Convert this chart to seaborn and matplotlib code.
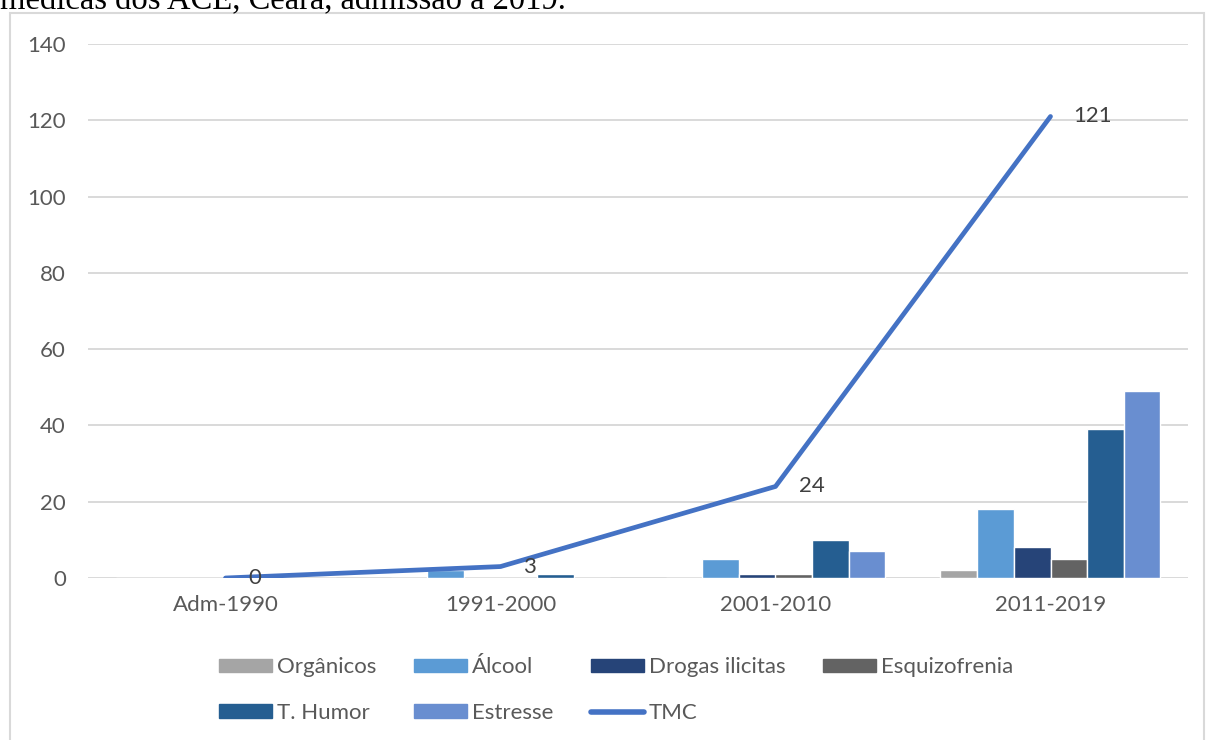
import numpy as np
import pandas as pd
import matplotlib
matplotlib.use('Agg')
import matplotlib.pyplot as plt
from matplotlib.patches import Rectangle
from matplotlib.lines import Line2D
import seaborn as sns

# -------------------------
# Dados
# -------------------------
periodos = ['Adm-1990', '1991-2000', '2001-2010', '2011-2019']
tipos = ['Orgânicos', 'Álcool', 'Drogas ilicitas', 'Esquizofrenia', 'T. Humor', 'Estresse']
organicos     = [0, 0, 0, 2]
alcool        = [0, 2, 5, 18]
drogas        = [0, 0, 1, 8]
esquizofrenia = [0, 0, 1, 5]
humor         = [0, 1, 10, 39]
estresse      = [0, 0, 7, 49]
tmc           = [0, 3, 24, 121]

cores = ['#A5A5A5', '#5B9BD5', '#264478', '#636363', '#255E91', '#698ED0']
cor_tmc = '#4472C4'

series = [organicos, alcool, drogas, esquizofrenia, humor, estresse]
df = pd.DataFrame({
    'periodo': periodos * len(tipos),
    'tipo': [t for t in tipos for _ in periodos],
    'n': [v for s in series for v in s],
})

sns.set_theme(style='white')
plt.rcParams['font.family'] = ['Lato', 'DejaVu Sans']

FS = 16

fig = plt.figure(figsize=(12.06, 7.40), dpi=100)
ax = fig.add_axes([88/1206, 1-578/740, 1100/1206, 534/740])

sns.barplot(data=df, x='periodo', y='n', hue='tipo', order=periodos,
            hue_order=tipos, palette=cores, width=0.8, saturation=1,
            ax=ax, legend=False, errorbar=None)

pos = np.arange(len(periodos))
sns.lineplot(x=pos, y=tmc, color=cor_tmc, linewidth=3.4, ax=ax, zorder=5)
for x, v in zip(pos, tmc):
    ax.annotate(str(v), (x, v), xytext=(23, 0), textcoords='offset pixels',
                ha='left', va='center', fontsize=FS, color='#404040', zorder=6)

ax.set_xlim(-0.5, 3.5)
ax.set_ylim(0, 140)
ax.set_yticks(range(0, 141, 20))
ax.set_xlabel('')
ax.set_ylabel('')
ax.grid(axis='y', color='#D9D9D9', linewidth=1.4)
ax.set_axisbelow(True)
for s in ax.spines.values():
    s.set_visible(False)
ax.tick_params(axis='both', length=0, labelsize=FS, labelcolor='#595959')
ax.tick_params(axis='y', pad=16)
ax.tick_params(axis='x', pad=12)

# Legenda (ordem por linhas, estilo Excel)
handles = [Rectangle((0, 0), 1, 1, color=c) for c in cores]
handles.append(Line2D([0], [0], color=cor_tmc, linewidth=4, solid_capstyle='round'))
labels = tipos + ['TMC']
ordem = [0, 4, 1, 5, 2, 6, 3]
leg = fig.legend([handles[i] for i in ordem], [labels[i] for i in ordem],
                 ncol=4, loc='center', bbox_to_anchor=(616/1206, 1-690/740),
                 frameon=False, fontsize=FS, labelcolor='#595959',
                 handlelength=2.4, handleheight=0.55, handletextpad=0.2,
                 columnspacing=1.7, labelspacing=1.15)

# Moldura do gráfico
fig.patches.append(Rectangle((10/1206, -0.05), 1194/1206, 1.05 - 13/740,
                             transform=fig.transFigure, fill=False,
                             edgecolor='#D9D9D9', linewidth=1.5))

# Legenda do documento (cortada no topo, como na figura original)
fig.text(0.0, 1 - 8/740, 'médicas dos ACE, Ceará, admissão a 2019.',
         family='Liberation Serif', fontsize=23.5, color='black',
         ha='left', va='baseline')

fig.savefig('out.png', dpi=100)
print('ok')
